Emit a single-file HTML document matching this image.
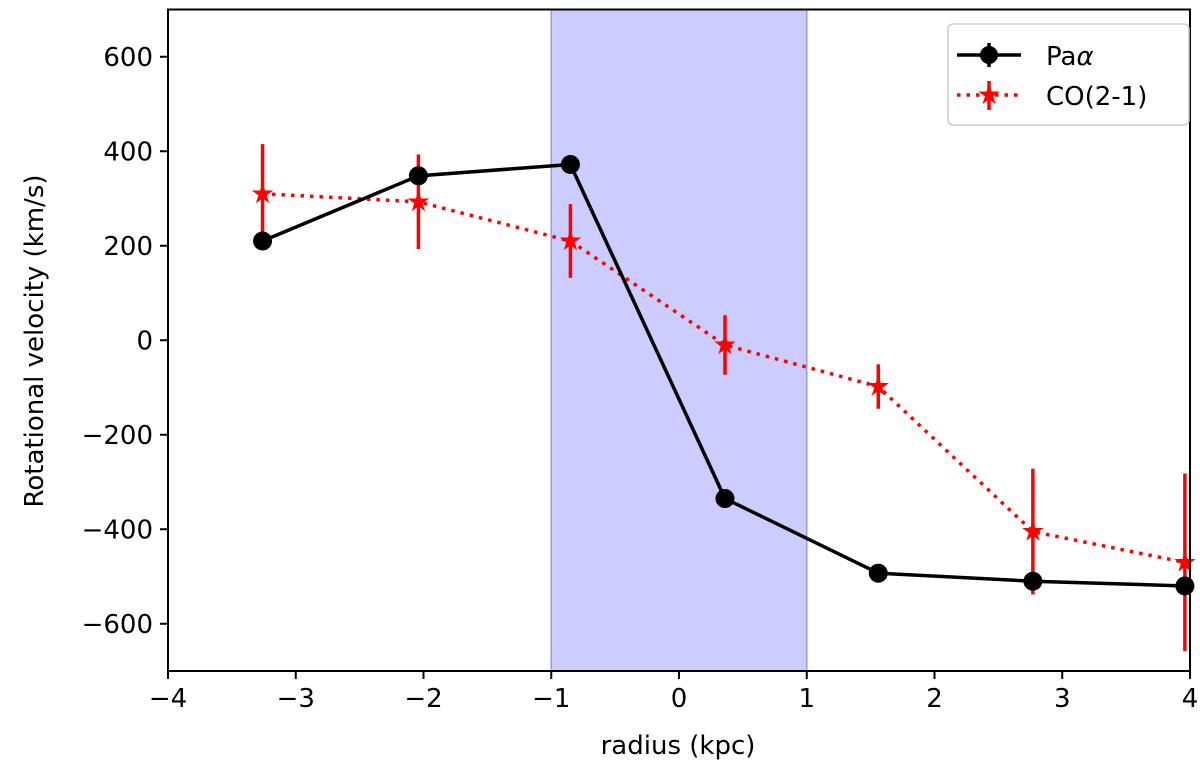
<!DOCTYPE html>
<html><head><meta charset="utf-8">
<style>
html,body{margin:0;padding:0;background:#fff;}
svg{display:block;font-family:"DejaVu Sans","Liberation Sans",sans-serif;}
</style></head>
<body>
<svg id="chart" width="1200" height="772" viewBox="0 0 1200 772">
  <g id="plot"></g>
  <g id="axes"></g>
  <text x="678" y="754" font-size="26" text-anchor="middle">radius (kpc)</text>
  <text transform="translate(43,341) rotate(-90)" font-size="26" text-anchor="middle">Rotational velocity (km/s)</text>
  <g>
    <rect x="948" y="24" width="241" height="101" rx="5" fill="#fff" stroke="#ccc" stroke-width="1.5"/>
    <g>
      <line x1="957" y1="55" x2="1021" y2="55" stroke="#000" stroke-width="3.5"/>
      <line x1="989" y1="43" x2="989" y2="67" stroke="#000" stroke-width="3.5"/>
      <circle cx="989" cy="55" r="9" fill="#000"/>
      <text x="1046" y="65" font-size="26">Pa<tspan font-style="italic">α</tspan></text>
    </g>
    <g>
      <line x1="957" y1="95" x2="1021" y2="95" stroke="#f00" stroke-width="3.5" stroke-dasharray="3.5,6"/>
      <line x1="989" y1="81" x2="989" y2="110" stroke="#f00" stroke-width="3.5"/>
      <text x="989" y="104" font-size="28" fill="#f00" text-anchor="middle">★</text>
      <text x="1046" y="105" font-size="26">CO(2-1)</text>
    </g>
  </g>
</svg>
<script>
const paX = [-3.26, -2.04, -0.85, 0.36, 1.56, 2.77, 3.96];
const paY = [210, 348, 372, -335, -493, -510, -520];
const paErr = [5, 8, 15, 8, 5, 5, 5];
const coX = [-3.26, -2.04, -0.85, 0.36, 1.56, 2.77, 3.96];
const coY = [310, 293, 210, -10, -98, -405, -470];
const coErr = [105, 100, 78, 63, 47, 133, 188];
const xTicks = [-4, -3, -2, -1, 0, 1, 2, 3, 4];
const yTicks = [-600, -400, -200, 0, 200, 400, 600];
const band = [-1, 1];

const L = 168, R = 1190, T = 9.5, B = 671;
const xMin = -4, xMax = 4, yMin = -700, yMax = 700;
const sx = v => L + (v - xMin) / (xMax - xMin) * (R - L);
const sy = v => B - (v - yMin) / (yMax - yMin) * (B - T);
const NS = "http://www.w3.org/2000/svg";
function mk(tag, attrs, parent) {
  const e = document.createElementNS(NS, tag);
  for (const k in attrs) e.setAttribute(k, attrs[k]);
  parent.appendChild(e);
  return e;
}
const plot = document.getElementById('plot');
const axes = document.getElementById('axes');

const bandEl = mk('rect', {x: sx(band[0]), y: T, width: sx(band[1]) - sx(band[0]), height: B - T, fill: '#ccccff', stroke: '#9999ee', 'stroke-width': 1.5}, plot);



const coLine = mk('polyline', {points: coX.map((x, i) => sx(x) + ',' + sy(coY[i])).join(' '), fill: 'none', stroke: '#f00', 'stroke-width': 3.5, 'stroke-dasharray': '3.5,6'}, plot);


coX.forEach((x, i) => {
  const eb = mk('line', {x1: sx(x), x2: sx(x), y1: sy(coY[i] + coErr[i]), y2: sy(coY[i] - coErr[i]), stroke: '#f00', 'stroke-width': 3.5}, plot);
  
  
});

const paLine = mk('polyline', {points: paX.map((x, i) => sx(x) + ',' + sy(paY[i])).join(' '), fill: 'none', stroke: '#000', 'stroke-width': 3.5}, plot);


paX.forEach((x, i) => {
  const eb = mk('line', {x1: sx(x), x2: sx(x), y1: sy(paY[i] + paErr[i]), y2: sy(paY[i] - paErr[i]), stroke: '#000', 'stroke-width': 3.5}, plot);
  
  
  const c = mk('circle', {cx: sx(x), cy: sy(paY[i]), r: 9.5, fill: '#000'}, plot);
  
  
});
coX.forEach((x, i) => {
  const s = mk('text', {x: sx(x), y: sy(coY[i]) + 9, 'font-size': 28, fill: '#f00', 'text-anchor': 'middle'}, plot);
  s.textContent = '★';
  
  
});

const frame = mk('rect', {x: L, y: T, width: R - L, height: B - T, fill: 'none', stroke: '#000', 'stroke-width': 2}, axes);


xTicks.forEach(v => {
  const t = mk('line', {x1: sx(v), x2: sx(v), y1: B, y2: B + 8, stroke: '#000', 'stroke-width': 2}, axes);
  
  
  const lb = mk('text', {x: sx(v), y: B + 36, 'font-size': 26, 'text-anchor': 'middle'}, axes);
  lb.textContent = v < 0 ? '\u2212' + Math.abs(v) : String(v);
  
  
});
yTicks.forEach(v => {
  const t = mk('line', {x1: L - 8, x2: L, y1: sy(v), y2: sy(v), stroke: '#000', 'stroke-width': 2}, axes);
  
  
  const lb = mk('text', {x: L - 15, y: sy(v) + 9, 'font-size': 26, 'text-anchor': 'end'}, axes);
  lb.textContent = v < 0 ? '\u2212' + Math.abs(v) : String(v);
  
  
});
</script>
</body></html>
